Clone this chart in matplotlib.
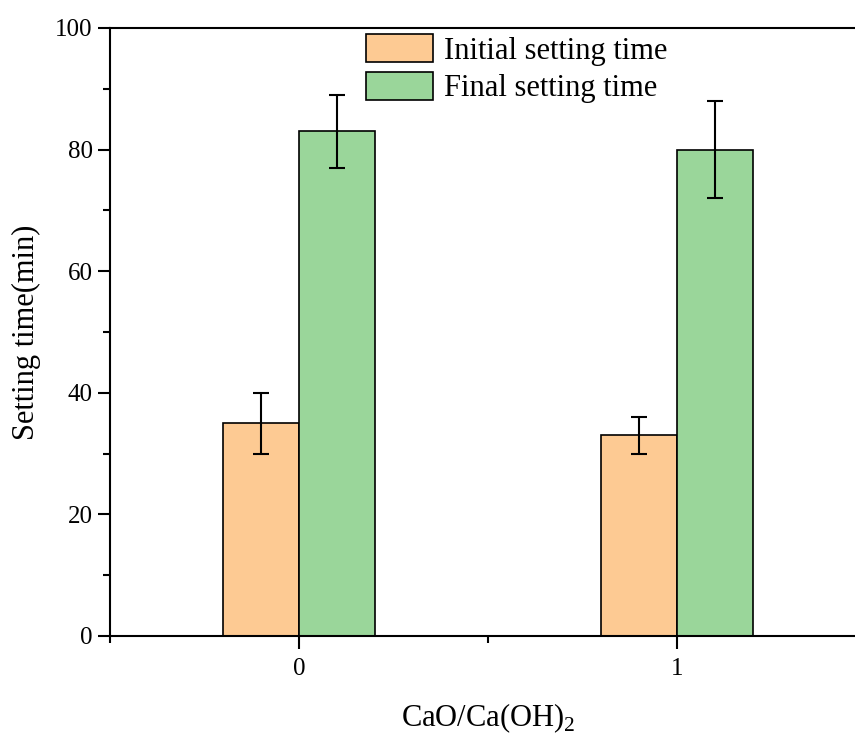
import numpy as np
import matplotlib
matplotlib.use("Agg")
import matplotlib.pyplot as plt
from matplotlib.ticker import MultipleLocator

plt.rcParams['font.family'] = ['Liberation Serif', 'DejaVu Serif']
plt.rcParams['mathtext.fontset'] = 'custom'
plt.rcParams['mathtext.rm'] = 'Liberation Serif'

# datos
categorias = ['0', '1']
inicial = [35, 33]
inicial_err = [5, 3]
final = [83, 80]
final_err = [6, 8]

color_ini = '#FDCA93'
color_fin = '#9AD69A'

fig = plt.figure(figsize=(8.55, 7.36), dpi=100)
# el eje llega hasta x=1.5, un poco fuera de la imagen (recortado como el original)
ax = fig.add_axes([110/855, 100/736, (866-110)/855, (636-28)/736])

x = np.arange(len(categorias))
ancho = 0.2
err_kw = dict(ecolor='black', elinewidth=1.5, capsize=5.5, capthick=1.5)

ax.bar(x - ancho/2, inicial, ancho, yerr=inicial_err, color=color_ini,
       edgecolor='black', linewidth=1.2, label='Initial setting time', error_kw=err_kw)
ax.bar(x + ancho/2, final, ancho, yerr=final_err, color=color_fin,
       edgecolor='black', linewidth=1.2, label='Final setting time', error_kw=err_kw)

ax.set_xlim(-0.5, 1.5)
ax.set_ylim(0, 100)
ax.set_xticks(x)
ax.set_xticklabels(categorias)
ax.xaxis.set_minor_locator(MultipleLocator(0.5))
ax.yaxis.set_major_locator(MultipleLocator(20))
ax.yaxis.set_minor_locator(MultipleLocator(10))

ax.tick_params(which='major', direction='out', length=9, width=1.5, labelsize=18)
ax.tick_params(which='minor', direction='out', length=5, width=1.5)
ax.tick_params(axis='x', pad=7)

for lado in ['left', 'bottom', 'top', 'right']:
    ax.spines[lado].set_linewidth(1.5)

ax.set_ylabel('Setting time(min)', fontsize=22, labelpad=10)
ax.set_xlabel('CaO/Ca(OH)$_2$', fontsize=22, labelpad=15)

fig.legend(loc='upper left', bbox_to_anchor=(366/855, 1 - 34/736), frameon=False,
           fontsize=22, handlelength=2.2, handleheight=1.05, labelspacing=0.2,
           handletextpad=0.35, borderpad=0, borderaxespad=0)

fig.savefig('out.png', dpi=100)
